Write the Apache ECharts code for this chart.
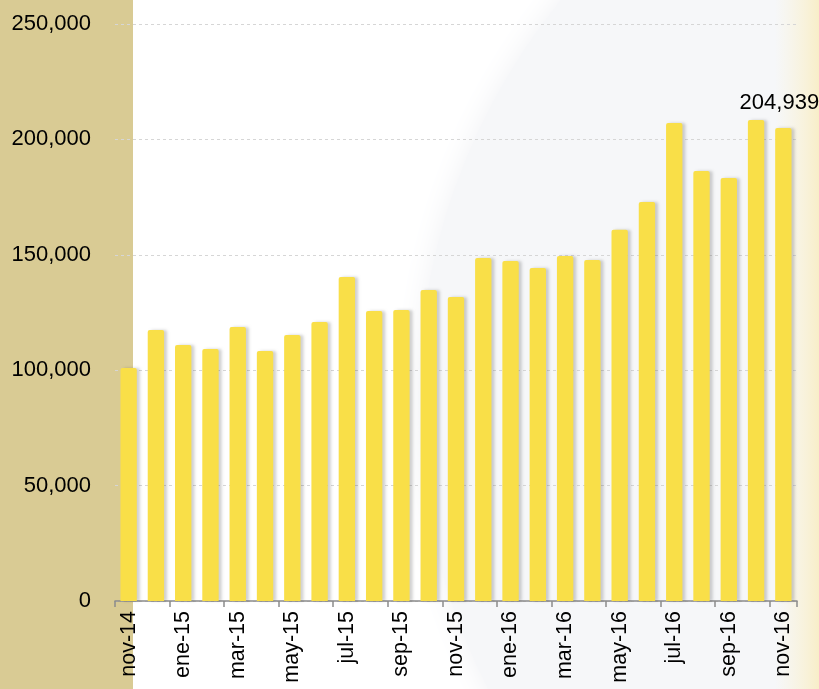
<!DOCTYPE html>
<html>
<head>
<meta charset="utf-8">
<script src="https://cdn.jsdelivr.net/npm/echarts@6/dist/echarts.min.js"></script>
<style>
  html, body { margin: 0; padding: 0; background: #fff; }
  #chart { width: 819px; height: 689px; }
</style>
</head>
<body>
<div id="chart"></div>
<script>
// meses (nov-14 .. nov-16)
var months = ['nov-14','dic-14','ene-15','feb-15','mar-15','abr-15','may-15','jun-15','jul-15','ago-15',
              'sep-15','oct-15','nov-15','dic-15','ene-16','feb-16','mar-16','abr-16','may-16','jun-16',
              'jul-16','ago-16','sep-16','oct-16','nov-16'];
// valores
var values = [101000, 117400, 110900, 109200, 118700, 108300, 115200, 120900, 140400, 125700,
              126100, 134800, 131700, 148600, 147300, 144300, 149500, 147800, 160800, 172900,
              207100, 186300, 183300, 208400, 204939];
var labelIndex = 24; // sólo se etiqueta el último mes
var yMax = 250000, yStep = 50000;

var chart = echarts.init(document.getElementById('chart'));

var barData = values.map(function(v, i){
    if (i === labelIndex) {
        return { value: v, label: { show: true } };
    }
    return v;
});

var option = {
    animation: false,
    backgroundColor: '#ffffff',
    graphic: [
        { type: 'circle', z: -10, silent: true,
          shape: { cx: 1050, cy: 400, r: 632 },
          style: { fill: '#f6f7f9', shadowColor: 'rgba(240,241,244,1)', shadowBlur: 30 } },
        { type: 'rect', z: -9, silent: true,
          shape: { x: 775, y: 0, width: 44, height: 689 },
          style: { fill: new echarts.graphic.LinearGradient(0, 0, 1, 0, [
              { offset: 0, color: 'rgba(250,243,215,0)' },
              { offset: 1, color: 'rgba(248,238,200,1)' }]) } },
        { type: 'rect', z: -8, silent: true,
          shape: { x: 0, y: 0, width: 133, height: 689 },
          style: { fill: '#d9cb94' } }
    ],
    grid: { left: 115, right: 22, top: 24, bottom: 88 },
    xAxis: {
        type: 'category',
        data: months,
        boundaryGap: true,
        axisLine: { lineStyle: { color: '#8c8c8c', width: 1.5 } },
        axisTick: { show: true, interval: 1, length: 6, lineStyle: { color: '#8c8c8c', width: 1.5 } },
        axisLabel: {
            interval: 1,
            rotate: 90,
            margin: 10,
            color: '#000',
            fontSize: 21.5,
            fontFamily: 'Liberation Sans, Arial, sans-serif'
        }
    },
    yAxis: {
        type: 'value',
        min: 0,
        max: yMax,
        interval: yStep,
        axisLine: { show: false },
        axisTick: { show: false },
        splitLine: { lineStyle: { color: '#d6d6d6', type: [3, 3], width: 1 } },
        axisLabel: {
            margin: 24,
            color: '#000',
            fontSize: 22,
            fontFamily: 'Liberation Sans, Arial, sans-serif',
            formatter: function(v){ return v.toLocaleString('en-US'); }
        }
    },
    series: [{
        type: 'bar',
        data: barData,
        barCategoryGap: '40%',
        itemStyle: {
            color: '#f9df48',
            borderRadius: [2, 2, 0, 0],
            shadowColor: 'rgba(0,0,0,0.18)',
            shadowBlur: 3,
            shadowOffsetX: 3
        },
        label: {
            show: false,
            position: 'top',
            distance: 14,
            offset: [-4, 0],
            color: '#000',
            fontSize: 22,
            fontFamily: 'Liberation Sans, Arial, sans-serif',
            formatter: function(p){ return p.value.toLocaleString('en-US'); }
        }
    }]
};

chart.setOption(option, true);
</script>
</body>
</html>
